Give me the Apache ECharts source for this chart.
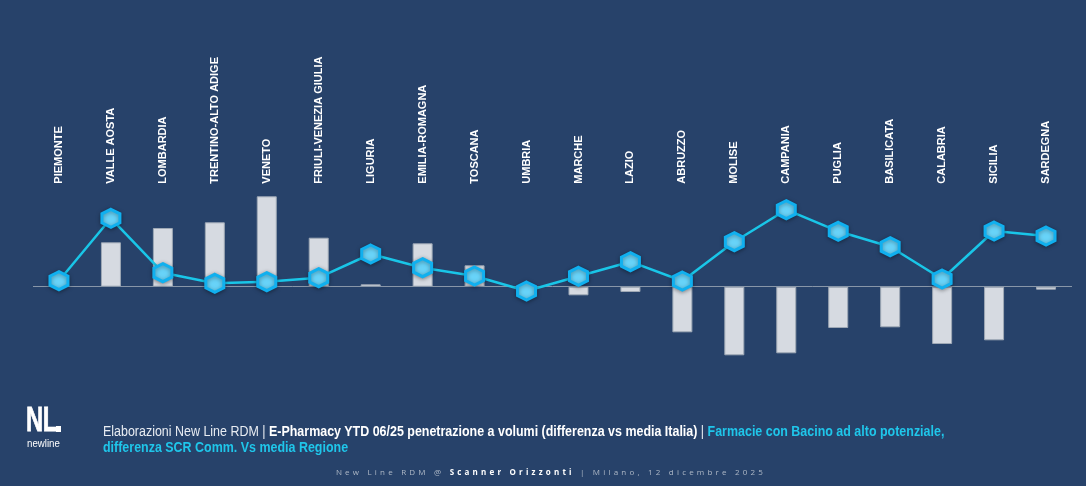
<!DOCTYPE html>
<html>
<head>
<meta charset="utf-8">
<script src="https://cdn.jsdelivr.net/npm/echarts@6/dist/echarts.min.js"></script>
<style>
  html, body { margin:0; padding:0; background:#27426a; }
  #wrap { position:relative; width:1086px; height:486px; background:#27426a; overflow:hidden; }
  #chart { position:absolute; left:0; top:0; width:1086px; height:486px; }
  .ov { position:absolute; white-space:nowrap; transform-origin:0 0; }
  #logoNL { left:26px; top:401px; color:#fff; font-family:'Liberation Sans',Arial,sans-serif; font-size:35px; line-height:35px; font-weight:bold; letter-spacing:-0.5px; transform:scaleX(0.68); -webkit-text-stroke:0.8px #fff; }
  #logoSq { position:absolute; left:56px; top:426px; width:5px; height:6px; background:#fff; }
  #logoSub { left:27px; top:437px; color:#fff; font-family:'Liberation Sans',Arial,sans-serif; font-size:11px; line-height:12px; transform:scaleX(0.88); }
  #cap { left:103px; top:424px; font-family:'Liberation Sans',Arial,sans-serif; font-size:14px; line-height:15.5px; color:#e8ecf2; transform:scaleX(0.89); }
  #cap b { font-weight:bold; color:#fff; }
  #cap .cy { color:#1fc6ea; font-weight:bold; }
  #foot { left:8px; width:1086px; text-align:center; top:466px; font-family:'Open Sans','DejaVu Sans',sans-serif; font-size:8px; letter-spacing:3.2px; color:#aeb8c6; }
  #foot b { color:#fff; font-weight:bold; }
</style>
</head>
<body>
<div id="wrap">
  <div id="chart"></div>
  <div id="logoNL" class="ov">NL</div>
  <div id="logoSq"></div>
  <div id="logoSub" class="ov">newline</div>
  <div id="cap" class="ov">Elaborazioni New Line RDM | <b>E-Pharmacy YTD 06/25 penetrazione a volumi (differenza vs media Italia)</b> | <span class="cy">Farmacie con Bacino ad alto potenziale,</span><br><span class="cy">differenza SCR Comm. Vs media Regione</span></div>
  <div id="foot" class="ov">New Line RDM @ <b>Scanner Orizzonti</b> | Milano, 12 dicembre 2025</div>
</div>
<script>
const regions = ['PIEMONTE','VALLE AOSTA','LOMBARDIA','TRENTINO-ALTO ADIGE','VENETO','FRIULI-VENEZIA GIULIA','LIGURIA','EMILIA-ROMAGNA','TOSCANA','UMBRIA','MARCHE','LAZIO','ABRUZZO','MOLISE','CAMPANIA','PUGLIA','BASILICATA','CALABRIA','SICILIA','SARDEGNA'];
const ePharmacyDiff = [1.17, 4.44, 5.87, 6.44, 9.04, 4.90, 0.24, 4.34, 2.14, 0.10, -0.86, -0.53, -4.56, -6.86, -6.66, -4.13, -4.06, -5.73, -5.36, -0.30];
const scrCommDiff = [0.60, 6.84, 1.40, 0.34, 0.50, 0.90, 3.27, 1.90, 1.07, -0.43, 1.04, 2.50, 0.57, 4.50, 7.70, 5.54, 4.00, 0.77, 5.57, 5.07];

const hex = 'path://M0,-10 L8.66,-5 L8.66,5 L0,10 L-8.66,5 L-8.66,-5 Z';
const chart = echarts.init(document.getElementById('chart'));
chart.setOption({
  backgroundColor: 'transparent',
  animation: false,
  grid: { left: 33, right: 14, top: 186.7, bottom: 99.3 },
  xAxis: { type: 'category', data: regions, position: 'top',
      axisLine: { show: false }, axisTick: { show: false },
      axisLabel: { rotate: 90, interval: 0, color: '#ffffff', fontWeight: 'bold', fontSize: 11, fontFamily: 'Liberation Sans, Arial, sans-serif', margin: 3 } },
  yAxis: { type: 'value', min: -10, max: 10, show: false, splitLine: { show: false } },
  series: [
    { type: 'bar', data: ePharmacyDiff, barWidth: 20,
      itemStyle: { color: '#d6dae1', borderColor: '#9ea8b5', borderWidth: 1 },
      markLine: { silent: true, symbol: 'none', label: { show: false },
        lineStyle: { color: '#8896a8', width: 1, type: 'solid' },
        data: [{ yAxis: 0 }] } },
    { type: 'line', data: scrCommDiff, symbol: hex, symbolSize: 18,
      lineStyle: { color: '#19c6e8', width: 2.5 },
      itemStyle: { color: '#68d3f8', borderColor: '#10b0ef', borderWidth: 3, shadowBlur: 4, shadowColor: 'rgba(0,0,0,0.35)', shadowOffsetY: 1 },
      z: 5 }
  ]
});
</script>
</body>
</html>
